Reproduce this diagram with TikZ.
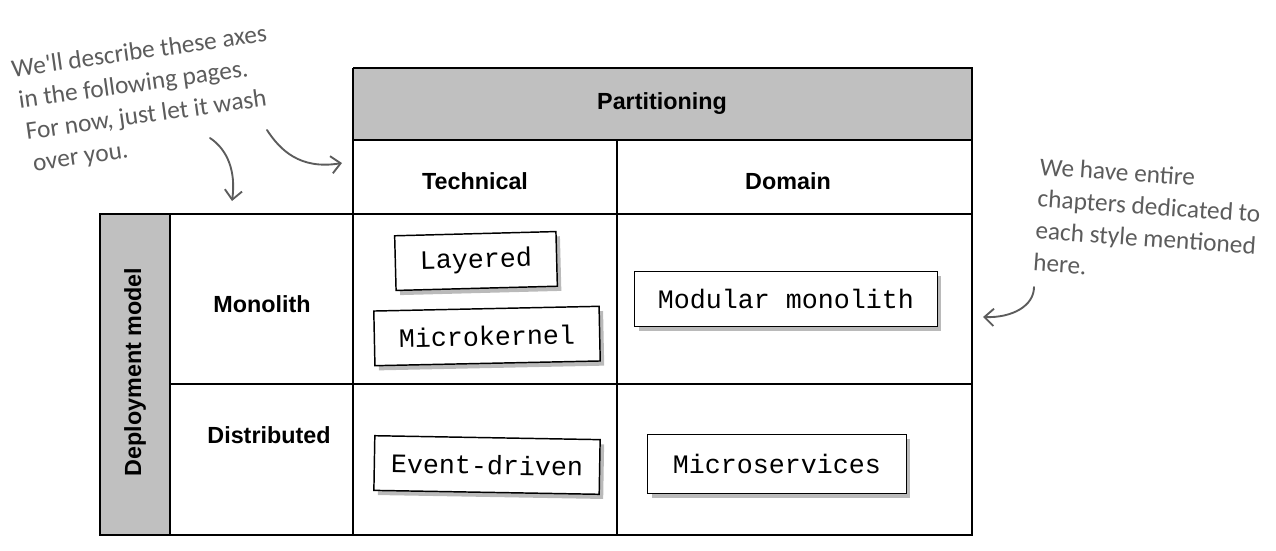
\documentclass[tikz,border=0pt]{standalone}
\usepackage{fontspec}
\setmainfont{Liberation Sans}
\newfontfamily\codefont{Liberation Mono}
\newfontfamily\notefont{Carlito}
\usetikzlibrary{arrows.meta,shadows}

\definecolor{headgrey}{RGB}{192,192,192}
\definecolor{notegrey}{RGB}{92,92,92}

\tikzset{
  gridline/.style={line width=1.5pt, black},
  headtxt/.style={inner sep=0.75pt, font=\bfseries\fontsize{17.5}{20}\selectfont},
  stylebox/.style={draw, line width=1.1pt, fill=white, inner sep=0pt,
    minimum height=41pt, font=\codefont\fontsize{20}{22}\selectfont,
    drop shadow={shadow xshift=3pt, shadow yshift=-3.5pt, opacity=0.45, fill=black!60}},
  notetxt/.style={inner sep=0.75pt, align=left, text=notegrey,
    font=\notefont\fontsize{19}{24}\selectfont},
  notearrow/.style={line width=1.4pt, notegrey, line cap=round,
    -{Straight Barb[length=7pt, width=13pt, line width=1.4pt]}}
}

\begin{document}
\begin{tikzpicture}[x=0.75pt,y=0.75pt,yscale=-1,xscale=1]
\useasboundingbox (0,0) rectangle (1276,550);

%Shape: grey headers
\fill[headgrey] (353,68) rectangle (972,140);
\fill[headgrey] (100,214) rectangle (170,535);
%Shape: grid
\draw[gridline] (353,68) -- (972,68) -- (972,535) -- (100,535) -- (100,214) -- (972,214);
\draw[gridline] (353,68) -- (353,535);
\draw[gridline] (353,140) -- (972,140);
\draw[gridline] (617,140) -- (617,535);
\draw[gridline] (170,214) -- (170,535);
\draw[gridline] (170,384) -- (972,384);

% Text Node
\draw (662,104) node [headtxt] (part) {Partitioning};
% Text Node
\draw (475,181) node [headtxt] (tech) {Technical};
% Text Node
\draw (788,181) node [headtxt] (dom) {Domain};
% Text Node
\draw (135,372) node [headtxt, rotate=90] (deploy) {Deployment model};
% Text Node
\draw (262,304) node [headtxt] (mono) {Monolith};
% Text Node
\draw (269,435) node [headtxt] (dist) {Distributed};

%Shape: style boxes
\draw (476,261) node [stylebox, minimum width=121pt, rotate=1.5] (layered) {Layered};
\draw (487,336) node [stylebox, minimum width=169pt, rotate=1.2] (micker) {Microkernel};
\draw (487,465) node [stylebox, minimum width=169pt, rotate=-1] (event) {Event-driven};
\draw (786,299) node [stylebox, minimum width=227pt] (modmono) {Modular monolith};
\draw (777,464) node [stylebox, minimum width=194pt, minimum height=44pt] (micser) {Microservices};

% Text Node
\draw (146,100) node [notetxt, rotate=8] (noteaxes) {We'll describe these axes\\\hspace*{2pt}in the following pages.\\\hspace*{4pt}For now, just let it wash\\\hspace*{6pt}over you.};
% Text Node
\draw (1148,222) node [notetxt, rotate=-4] (notechap) {We have entire\\chapters dedicated to\\each style mentioned\\here.};

%Curve Lines
\coordinate (a1s) at (210,138);
\coordinate (a1e) at (232,201);
\coordinate (a2s) at (267,130);
\coordinate (a2e) at (342,163);
\coordinate (a3s) at (1034,287);
\coordinate (a3e) at (983,317);
\draw[notearrow] (a1s) .. controls (228,150) and (236,172) .. (a1e);
\draw[notearrow] (a2s) .. controls (280,150) and (300,170) .. (a2e);
\draw[notearrow] (a3s) .. controls (1034,306) and (1012,318) .. (a3e);
\end{tikzpicture}
\end{document}
